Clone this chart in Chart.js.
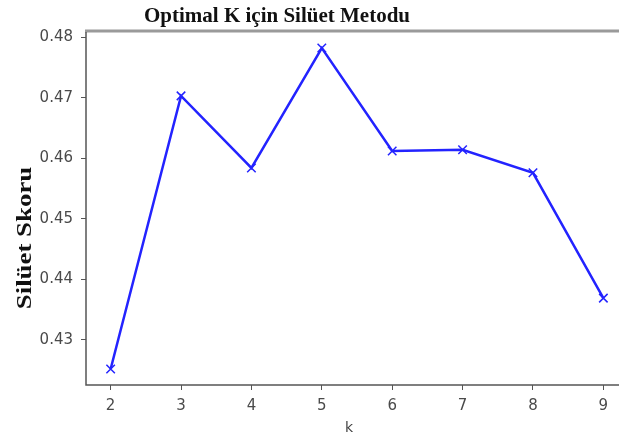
<!DOCTYPE html>
<html>
<head>
<meta charset="utf-8">
<script src="https://cdn.jsdelivr.net/npm/chart.js@4/dist/chart.umd.min.js"></script>
<style>
  html, body { margin: 0; padding: 0; background: #fff; overflow: hidden; }
  #wrap { width: 640px; height: 441px; }
</style>
</head>
<body>
<div id="wrap"><canvas id="grafico_siluet" width="640" height="441"></canvas></div>
<script>
// k values and silhouette scores
const kDegerleri = [2, 3, 4, 5, 6, 7, 8, 9];
const siluetSkorlari = [0.4252, 0.4703, 0.4584, 0.4782, 0.4612, 0.4614, 0.4576, 0.4369];
const yTickAdim = 0.01;

const baslik = 'Optimal K için Silüet Metodu';
const yBaslik = 'Silüet Skoru';
const xBaslik = 'k';

const noktalar = kDegerleri.map((k, i) => ({ x: k, y: siluetSkorlari[i] }));

// 5% margin around the data, like the original plot
const yMinVeri = Math.min(...siluetSkorlari);
const yMaxVeri = Math.max(...siluetSkorlari);
const yPay = (yMaxVeri - yMinVeri) * 0.05;
const xPay = (kDegerleri[kDegerleri.length - 1] - kDegerleri[0]) * 0.05;

// frame and free-placed labels
const cerceve = {
  id: 'cerceve',
  afterDraw(chart) {
    const { ctx, chartArea: a } = chart;
    ctx.save();
    ctx.strokeStyle = '#9a9a9a';
    ctx.lineWidth = 3;
    ctx.beginPath();
    ctx.moveTo(a.left - 1, a.top - 1);
    ctx.lineTo(chart.width, a.top - 1);
    ctx.stroke();

    ctx.strokeStyle = '#555';
    ctx.lineWidth = 1.5;
    ctx.beginPath();
    ctx.moveTo(a.left, a.top);
    ctx.lineTo(a.left, a.bottom);
    ctx.lineTo(a.right, a.bottom);
    ctx.stroke();

    ctx.fillStyle = '#111';
    ctx.textAlign = 'center';
    ctx.textBaseline = 'alphabetic';
    ctx.font = 'bold 21px "Liberation Serif"';
    ctx.fillText(baslik, 277, 22);

    // the axis title is drawn a bit stretched along its length
    ctx.save();
    ctx.translate(31, 238);
    ctx.rotate(-Math.PI / 2);
    ctx.scale(1.22, 1);
    ctx.font = 'bold 22px "Liberation Serif"';
    ctx.fillText(yBaslik, 0, 0);
    ctx.restore();

    ctx.fillStyle = '#444';
    ctx.font = '14px "DejaVu Sans"';
    ctx.textBaseline = 'middle';
    ctx.fillText(xBaslik, 349, 428);
    ctx.restore();
  }
};

new Chart(document.getElementById('grafico_siluet'), {
  type: 'line',
  data: {
    datasets: [{
      data: noktalar,
      borderColor: 'rgb(35, 35, 255)',
      borderWidth: 2.5,
      pointStyle: 'crossRot',
      pointRadius: 6,
      pointBorderWidth: 1.5,
      pointBorderColor: 'rgb(35, 35, 255)',
      tension: 0,
      fill: false
    }]
  },
  options: {
    responsive: false,
    animation: false,
    layout: { padding: { top: 32, right: 12, bottom: 0, left: 0 } },
    plugins: { legend: { display: false }, tooltip: { enabled: false } },
    scales: {
      x: {
        type: 'linear',
        min: kDegerleri[0] - xPay,
        max: kDegerleri[kDegerleri.length - 1] + xPay,
        afterFit: (s) => { s.height = 56; },
        grid: { display: true, drawOnChartArea: false, tickLength: 5, color: '#555' },
        border: { display: false },
        ticks: {
          stepSize: 1,
          includeBounds: false,
          padding: 7,
          color: '#4a4a4a',
          font: { family: 'DejaVu Sans', size: 15 },
          callback: (v) => v
        }
      },
      y: {
        min: yMinVeri - yPay,
        max: yMaxVeri + yPay,
        afterFit: (s) => { s.width = 86; },
        grid: { display: true, drawOnChartArea: false, tickLength: 5, color: '#555' },
        border: { display: false },
        ticks: {
          stepSize: yTickAdim,
          includeBounds: false,
          padding: 8,
          color: '#4a4a4a',
          font: { family: 'DejaVu Sans', size: 15 },
          callback: (v) => v.toFixed(2)
        }
      }
    }
  },
  plugins: [cerceve]
});
</script>
</body>
</html>
